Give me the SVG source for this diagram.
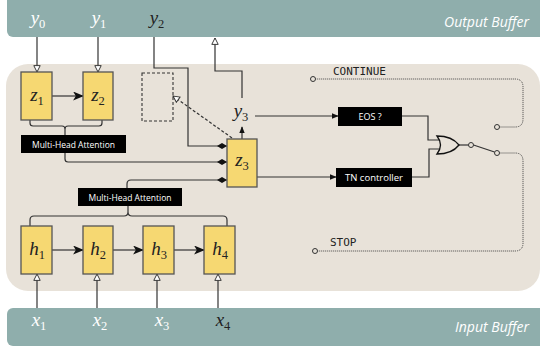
<svg xmlns="http://www.w3.org/2000/svg" width="540" height="351" viewBox="0 0 540 351">
<defs>
<style>
.band{fill:#8FAEAC}
.node{fill:#F6D872;stroke:#555;stroke-width:1.3}
.v{font-family:"Liberation Serif","DejaVu Serif",serif;font-style:italic;font-size:19px;fill:#222}
.v tspan{font-style:normal;font-size:12.5px}
.w{fill:#fff}
.lbl{font-family:"Open Sans","Noto Sans",sans-serif;fill:#fff;text-anchor:middle}
.buf{font-family:"Open Sans","Noto Sans",sans-serif;font-style:italic;font-size:14px;fill:#fff;text-anchor:end}
.mono{font-family:"DejaVu Sans Mono","Liberation Mono",monospace;font-size:11px;fill:#222}
.c{fill:none;stroke:#333;stroke-width:1.2}
.dot{fill:none;stroke:#444;stroke-width:1;stroke-dasharray:1,1}
.term{fill:#E8E2D9;stroke:#333;stroke-width:1}
</style>
<marker id="open" viewBox="0 0 10 10" refX="9" refY="5" markerWidth="8" markerHeight="8" markerUnits="userSpaceOnUse" orient="auto">
<path d="M1,1 L9,5 L1,9 Z" fill="#fff" stroke="#333" stroke-width="1.2"/>
</marker>
<marker id="fill" viewBox="0 0 12 10" refX="11" refY="5" markerWidth="12" markerHeight="9" markerUnits="userSpaceOnUse" orient="auto">
<path d="M0,0 L12,5 L0,10 L3,5 Z" fill="#111"/>
</marker>
<marker id="small" viewBox="0 0 10 8" refX="9" refY="4" markerWidth="7" markerHeight="6" markerUnits="userSpaceOnUse" orient="auto">
<path d="M0,0 L10,4 L0,8 Z" fill="#111"/>
</marker>
<marker id="dia" viewBox="0 0 10 6" refX="10" refY="3" markerWidth="10" markerHeight="6" markerUnits="userSpaceOnUse" orient="auto">
<path d="M0,3 L5,0 L10,3 L5,6 Z" fill="#111"/>
</marker>
</defs>

<rect class="band" x="7" y="-10" width="540" height="47" rx="6"/>
<rect x="6" y="64" width="534" height="227" rx="22" fill="#E8E2D9"/>
<rect class="band" x="7" y="308" width="540" height="38" rx="6"/>

<text class="buf" x="529" y="27">Output Buffer</text>
<text class="buf" x="529" y="332">Input Buffer</text>

<g id="labels-out">
<text class="v w" x="38" y="24" text-anchor="middle">y<tspan dy="4">0</tspan></text>
<text class="v w" x="99" y="24" text-anchor="middle">y<tspan dy="4">1</tspan></text>
<text class="v" x="157" y="24" text-anchor="middle">y<tspan dy="4">2</tspan></text>
</g>
<g id="labels-in">
<text class="v w" x="39" y="326" text-anchor="middle">x<tspan dy="4">1</tspan></text>
<text class="v w" x="100" y="326" text-anchor="middle">x<tspan dy="4">2</tspan></text>
<text class="v w" x="162" y="326" text-anchor="middle">x<tspan dy="4">3</tspan></text>
<text class="v" x="223" y="326" text-anchor="middle">x<tspan dy="4">4</tspan></text>
</g>

<g id="connectors">
<path class="c" d="M37,37 V72" marker-end="url(#open)"/>
<path class="c" d="M98,37 V72" marker-end="url(#open)"/>
<path class="c" d="M52,96 H83" marker-end="url(#fill)"/>
<path class="c" d="M30,120 V123 Q30,126 33,126 H62 Q65,126 65,129 V135 M65,129 Q65,126 68,126 H99 Q102,126 102,123 V120"/>
<path class="c" d="M65,153 V159 Q65,162 68,162 H227" marker-end="url(#dia)"/>
<path class="c" d="M154,37 V68 H188 V146 H227" marker-end="url(#dia)"/>
<path class="c" d="M127,188 V184 Q127,180 131,180 H227" marker-end="url(#dia)"/>
<path class="c" d="M30,226 V220 Q30,216 34,216 H124 Q128,216 128,212 V206 M128,212 Q128,216 132,216 H223 Q227,216 227,220 V226"/>
<path class="c" d="M52,250 H83" marker-end="url(#fill)"/>
<path class="c" d="M113,250 H143" marker-end="url(#fill)"/>
<path class="c" d="M174,250 H204" marker-end="url(#fill)"/>
<path class="c" d="M37,308 V274" marker-end="url(#open)"/>
<path class="c" d="M97,308 V274" marker-end="url(#open)"/>
<path class="c" d="M157,308 V274" marker-end="url(#open)"/>
<path class="c" d="M218,308 V274" marker-end="url(#open)"/>
<path class="c" d="M242,139 V127" marker-end="url(#small)"/>
<path class="c" d="M242,98 V71 H215 V38" marker-end="url(#open)"/>
<path class="c" d="M232,138 L173,96" stroke-dasharray="3,2" marker-end="url(#open)"/>
<path class="c" d="M255,116 H338" marker-end="url(#small)"/>
<path class="c" d="M257,177 H336" marker-end="url(#small)"/>
<path class="c" d="M402,116 H428 V140 H441"/>
<path class="c" d="M412,177 H429 V149 H441"/>
<path class="c" d="M459,145 H468.5"/>
<path class="c" d="M473.5,145 L494.5,152"/>
<path class="dot" d="M499.5,127 H515 Q523,127 523,119 V87 Q523,79 515,79 H315.5"/>
<path class="dot" d="M499.5,153 H515 Q523,153 523,161 V243 Q523,251 515,251 H317.5"/>
</g>

<g id="node-z1"><rect class="node" x="21" y="72" width="31" height="48"/><text class="v" x="37" y="101" text-anchor="middle">z<tspan dy="4">1</tspan></text></g>
<g id="node-z2"><rect class="node" x="83" y="72" width="30" height="48"/><text class="v" x="98" y="101" text-anchor="middle">z<tspan dy="4">2</tspan></text></g>
<g id="node-empty"><rect x="142" y="73" width="31" height="48" fill="none" stroke="#333" stroke-width="1.1" stroke-dasharray="3,2"/></g>
<g id="node-z3"><rect class="node" x="227" y="139" width="30" height="48"/><text class="v" x="242" y="166" text-anchor="middle">z<tspan dy="4">3</tspan></text></g>
<g id="node-y3"><text class="v" x="241" y="117" text-anchor="middle">y<tspan dy="4">3</tspan></text></g>
<g id="node-h1"><rect class="node" x="21" y="226" width="31" height="48"/><text class="v" x="37" y="255" text-anchor="middle">h<tspan dy="4">1</tspan></text></g>
<g id="node-h2"><rect class="node" x="83" y="226" width="30" height="48"/><text class="v" x="98" y="255" text-anchor="middle">h<tspan dy="4">2</tspan></text></g>
<g id="node-h3"><rect class="node" x="143" y="226" width="31" height="48"/><text class="v" x="159" y="255" text-anchor="middle">h<tspan dy="4">3</tspan></text></g>
<g id="node-h4"><rect class="node" x="204" y="226" width="31" height="48"/><text class="v" x="220" y="255" text-anchor="middle">h<tspan dy="4">4</tspan></text></g>

<g id="node-mha1"><rect x="21" y="135" width="105" height="18" fill="#000"/><text class="lbl" x="73.5" y="147.5" font-size="8.5">Multi-Head Attention</text></g>
<g id="node-mha2"><rect x="78" y="188" width="104" height="18" fill="#000"/><text class="lbl" x="130" y="200.5" font-size="8.5">Multi-Head Attention</text></g>
<g id="node-eos"><rect x="338" y="107" width="64" height="19" fill="#000"/><text class="lbl" x="370" y="120" font-size="9">EOS ?</text></g>
<g id="node-tn"><rect x="336" y="168" width="76" height="19" fill="#000"/><text class="lbl" x="374" y="181" font-size="9.5">TN controller</text></g>

<g id="node-or"><path d="M437,136 Q444,145 437,154 Q452,154 459,145 Q452,136 437,136 Z" fill="#E8E2D9" stroke="#111" stroke-width="1.3"/></g>
<g id="node-switch">
<circle class="term" cx="471" cy="145" r="2.5"/>
<circle class="term" cx="497" cy="127" r="2.5"/>
<circle class="term" cx="497" cy="153" r="2.5"/>
</g>
<g id="node-continue"><circle class="term" cx="313" cy="79" r="2.5"/><text class="mono" x="333" y="75">CONTINUE</text></g>
<g id="node-stop"><circle class="term" cx="315" cy="251" r="2.5"/><text class="mono" x="330" y="246">STOP</text></g>
</svg>
